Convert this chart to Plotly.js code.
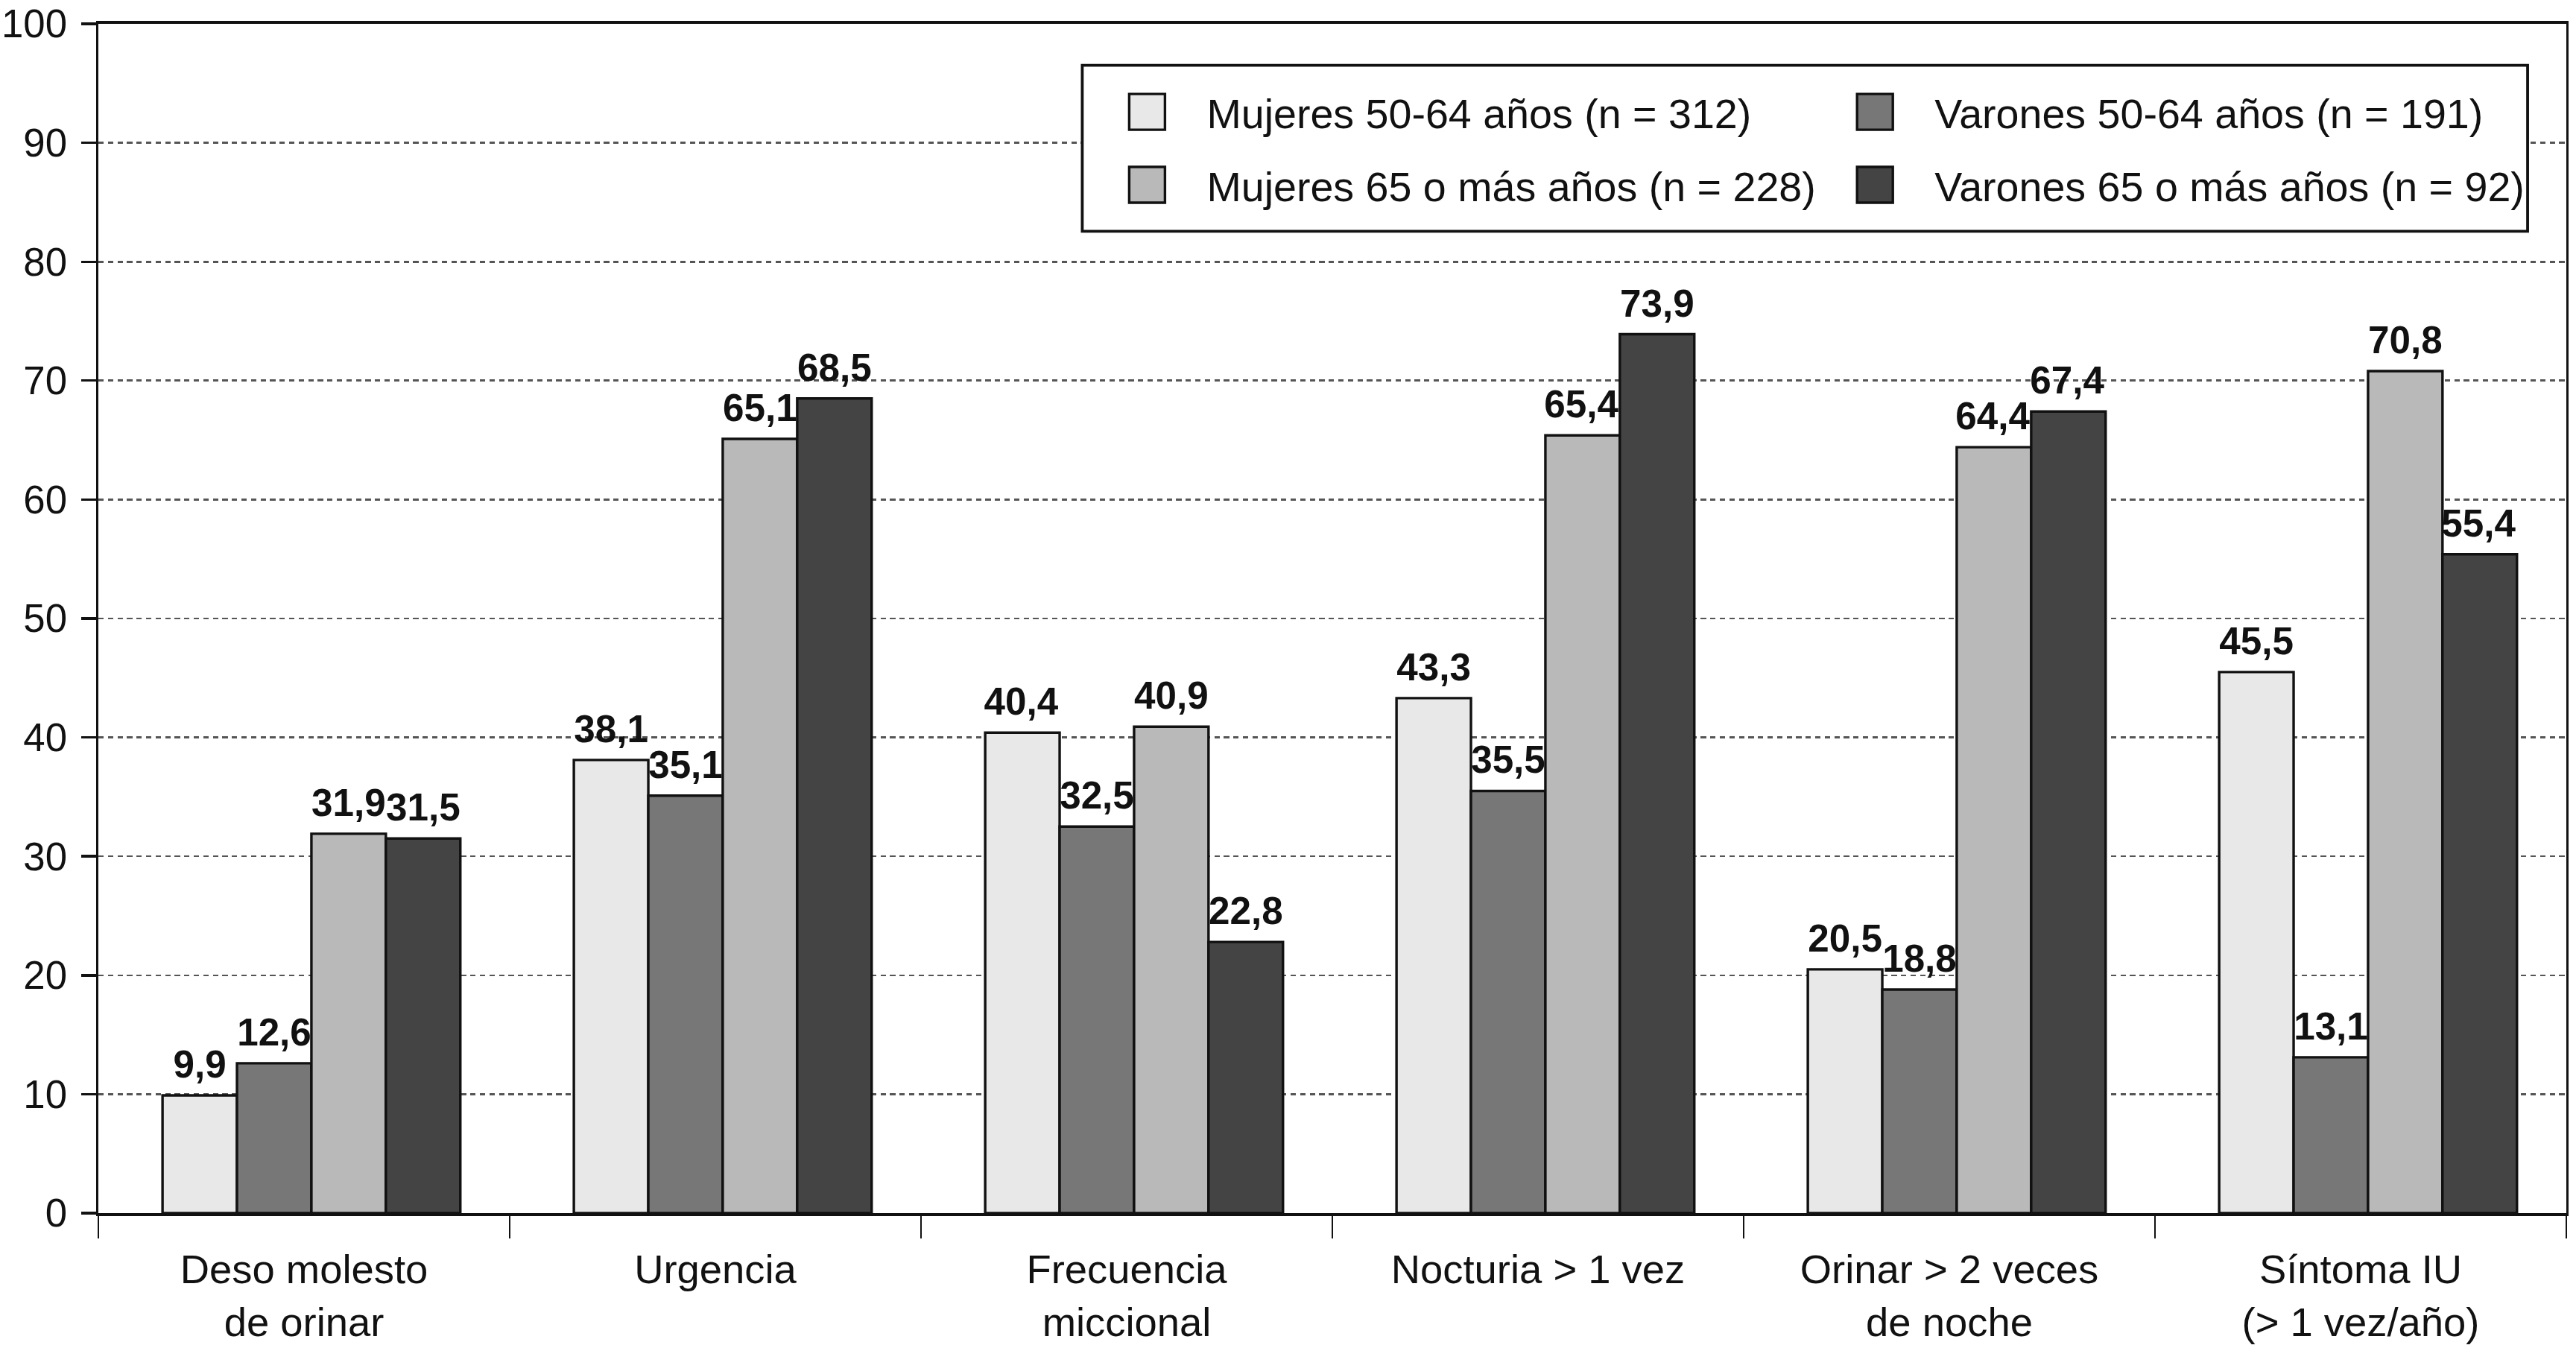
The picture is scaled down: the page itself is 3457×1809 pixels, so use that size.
<!DOCTYPE html>
<html>
<head>
<meta charset="utf-8">
<script src="https://cdn.plot.ly/plotly-3.0.1.min.js"></script>
<style>
  html, body { margin: 0; padding: 0; background: #ffffff; }
  #wrap { position: relative; width: 3457px; height: 1809px; overflow: hidden; background: #ffffff; }
  #chart { position: absolute; left: 0; top: 0; width: 864.25px; height: 452.25px; transform: scale(4); transform-origin: 0 0; }
</style>
</head>
<body>
<div id="wrap"><div id="chart"></div></div>
<script>
// ---- data ----
const categories = [
  "Deso molesto<br>de orinar",
  "Urgencia",
  "Frecuencia<br>miccional",
  "Nocturia > 1 vez",
  "Orinar > 2 veces<br>de noche",
  "Síntoma IU<br>(> 1 vez/año)"
];
const seriesNames = [
  "Mujeres 50-64 años (n = 312)",
  "Varones 50-64 años (n = 191)",
  "Mujeres 65 o más años (n = 228)",
  "Varones 65 o más años (n = 92)"
];
const mujeres5064 = [9.9, 38.1, 40.4, 43.3, 20.5, 45.5];
const varones5064 = [12.6, 35.1, 32.5, 35.5, 18.8, 13.1];
const mujeres65 = [31.9, 65.1, 40.9, 65.4, 64.4, 70.8];
const varones65 = [31.5, 68.5, 22.8, 73.9, 67.4, 55.4];
const yTicks = [0, 10, 20, 30, 40, 50, 60, 70, 80, 90, 100];

// ---- style ----
const FONT = "Liberation Sans, Arial, Helvetica, sans-serif";
const colors = ["#e8e8e8", "#777777", "#b9b9b9", "#444444"];
const seriesValues = [mujeres5064, varones5064, mujeres65, varones65];
const legendOf = ["legend", "legend2", "legend", "legend2"];
const barWidth = 0.181;            // in category units
const groupStart = -0.344;         // left edge of the bar group relative to category centre

const traces = seriesValues.map((vals, i) => ({
  type: "bar",
  name: seriesNames[i],
  x: categories,
  y: vals,
  width: barWidth,
  offset: groupStart + i * barWidth,
  legend: legendOf[i],
  legendgroup: "g" + i,
  marker: { color: colors[i], line: { color: "#111111", width: 0.85 } },
  texttemplate: "%{y:.1f}",
  textposition: "outside",
  constraintext: "none",
  cliponaxis: false,
  textfont: { family: FONT, size: 12.8, color: "#111111", weight: 700 },
  hoverinfo: "skip"
}));

// empty helper trace so the overlay axis (category boundary tick marks) is drawn
traces.push({
  type: "scatter", mode: "markers", x: [], y: [],
  xaxis: "x2", yaxis: "y", showlegend: false, hoverinfo: "skip"
});

// category boundaries for the tick marks of the overlay axis
const boundaries = categories.map((c, i) => i - 0.5).concat([categories.length - 0.5]);

const plotTop = 8.1, plotBottom = 407.5, plotH = plotBottom - plotTop;
const plotL = 32.75, plotW = 829;
const py = v => (plotBottom - v) / plotH;
const px = v => (v - plotL) / plotW;

const layout = {
  width: 864.25,
  height: 452.25,
  margin: { l: plotL, r: 2.5, t: plotTop, b: 452.25 - plotBottom, pad: 0 },
  paper_bgcolor: "#ffffff",
  plot_bgcolor: "#ffffff",
  separators: ",.",
  barmode: "group",
  bargap: 0.275,
  bargroupgap: 0,
  font: { family: FONT, color: "#111111", size: 13.2 },
  xaxis: {
    type: "category",
    showline: true,
    linecolor: "#111111",
    linewidth: 0.9,
    mirror: true,
    ticks: "outside",
    ticklen: 6.3,
    tickcolor: "rgba(0,0,0,0)",
    showgrid: false,
    zeroline: false,
    tickfont: { family: FONT, size: 13.6, color: "#111111" }
  },
  xaxis2: {
    overlaying: "x",
    anchor: "y",
    side: "bottom",
    type: "linear",
    range: [-0.5, categories.length - 0.5],
    tickvals: boundaries,
    showticklabels: false,
    ticks: "outside",
    ticklen: 7.5,
    tickwidth: 0.6,
    tickcolor: "#111111",
    showline: false,
    showgrid: false,
    zeroline: false,
    fixedrange: true
  },
  yaxis: {
    range: [0, 100],
    tickvals: yTicks,
    ticktext: yTicks.map(String),
    showline: true,
    linecolor: "#111111",
    linewidth: 0.85,
    mirror: true,
    ticks: "outside",
    ticklen: 5,
    tickwidth: 0.85,
    tickcolor: "#111111",
    showgrid: true,
    gridcolor: "#555555",
    gridwidth: 0.65,
    griddash: "1.8px,1.4px",
    zeroline: false,
    tickfont: { family: FONT, size: 13.2, color: "#111111" },
    ticklabelstandoff: 2
  },
  shapes: [{
    type: "rect",
    xref: "paper", yref: "paper",
    x0: px(363.25), x1: px(848.75),
    y0: py(77.75), y1: py(22),
    fillcolor: "#ffffff",
    line: { color: "#111111", width: 0.95 },
    layer: "above"
  }],
  legend: {
    x: px(365), y: py(22.1), xanchor: "left", yanchor: "top",
    orientation: "v",
    bgcolor: "rgba(0,0,0,0)",
    borderwidth: 0,
    tracegroupgap: 3.4,
    font: { family: FONT, size: 13.9, color: "#111111" }
  },
  legend2: {
    x: px(609.5), y: py(22.1), xanchor: "left", yanchor: "top",
    orientation: "v",
    bgcolor: "rgba(0,0,0,0)",
    borderwidth: 0,
    tracegroupgap: 3.4,
    font: { family: FONT, size: 13.9, color: "#111111" }
  },
  showlegend: true
};

Plotly.newPlot("chart", traces, layout, { staticPlot: true, displayModeBar: false });
</script>
</body>
</html>
